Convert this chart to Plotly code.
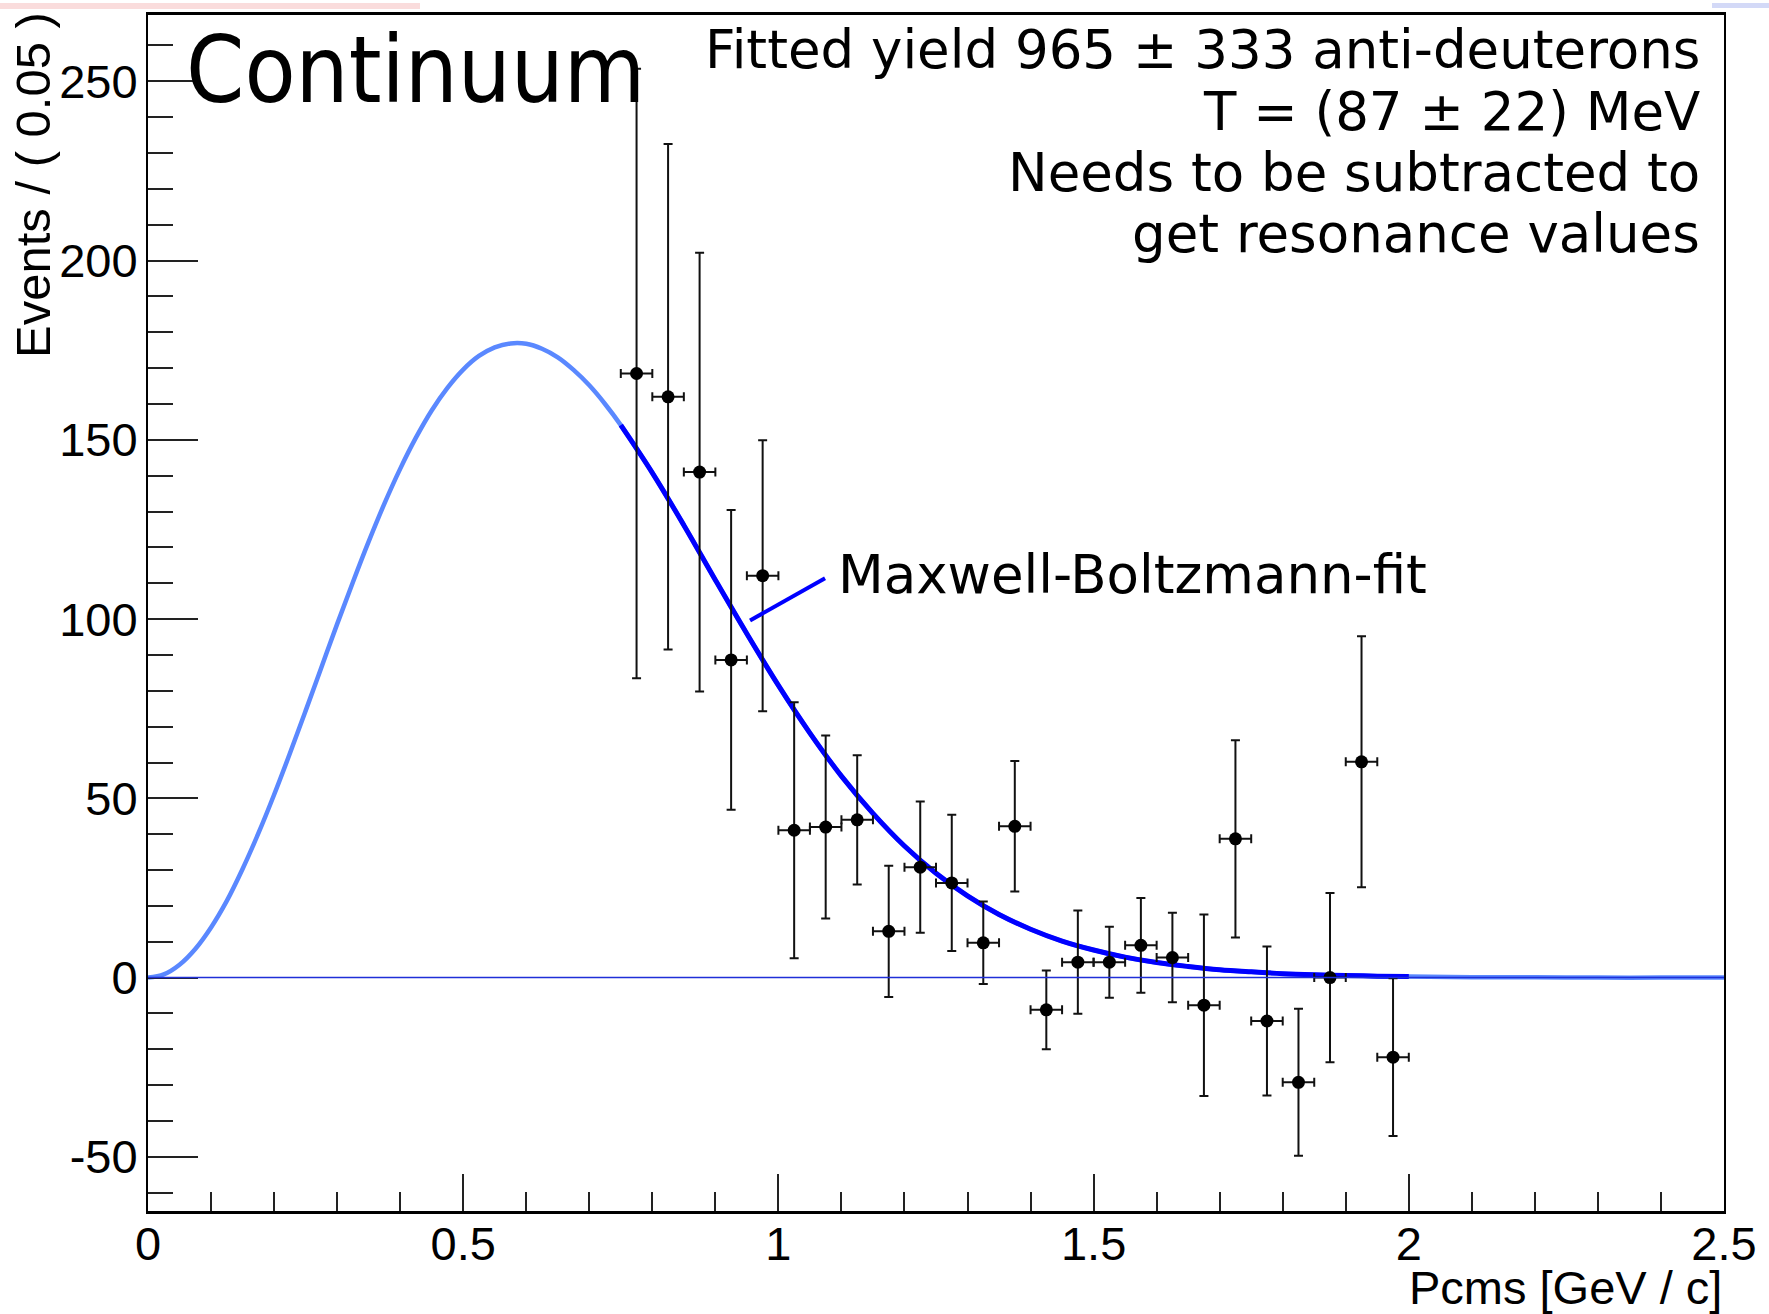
import plotly.graph_objects as go

# ---- data ----
bin_centers = [0.775, 0.825, 0.875, 0.925, 0.975, 1.025, 1.075, 1.125, 1.175, 1.225,
               1.275, 1.325, 1.375, 1.425, 1.475, 1.525, 1.575, 1.625, 1.675, 1.725,
               1.775, 1.825, 1.875, 1.925, 1.975]
events = [168.5, 162.0, 141.0, 88.6, 112.1, 41.1, 42.0, 44.0, 12.9, 30.8,
          26.4, 9.7, 42.2, -9.0, 4.3, 4.3, 9.0, 5.6, -7.7, 38.7,
          -12.1, -29.2, 0.0, 60.2, -22.2]
event_err = [85.0, 70.5, 61.2, 41.8, 37.8, 35.7, 25.5, 18.0, 18.3, 18.3,
             19.0, 11.5, 18.2, 11.0, 14.4, 9.9, 13.2, 12.5, 25.3, 27.5,
             20.8, 20.5, 23.6, 35.0, 22.0]
bin_half_width = 0.025

fit_x = [0.0, 0.025, 0.05, 0.075, 0.1, 0.125, 0.15, 0.175, 0.2, 0.225, 0.25, 0.275, 0.3,
         0.325, 0.35, 0.375, 0.4, 0.425, 0.45, 0.475, 0.5, 0.525, 0.55, 0.575, 0.6, 0.625,
         0.65, 0.675, 0.7, 0.725, 0.75, 0.8, 0.85, 0.9, 0.95, 1.0, 1.05, 1.1, 1.15, 1.2,
         1.25, 1.3, 1.35, 1.4, 1.45, 1.5, 1.55, 1.6, 1.65, 1.7, 1.75, 1.8, 1.85, 1.9,
         1.95, 2.0, 2.1, 2.2, 2.3, 2.4, 2.5]
fit_y = [0.0, 0.9, 3.6, 8.0, 14.0, 21.4, 30.3, 40.2, 51.0, 62.5, 74.4, 86.5, 98.6,
         110.3, 121.6, 132.2, 141.9, 150.6, 158.2, 164.5, 169.6, 173.4, 175.8, 176.9,
         176.8, 175.4, 173.0, 169.5, 165.2, 160.0, 154.1, 140.8, 126.2, 110.9, 95.9,
         81.5, 68.2, 56.2, 45.8, 36.7, 29.1, 22.8, 17.6, 13.5, 10.2, 7.7, 5.7, 4.2, 3.1,
         2.2, 1.6, 1.1, 0.8, 0.6, 0.4, 0.3, 0.1, 0.1, 0.0, 0.0, 0.0]
fit_range = [0.75, 2.0]

x_ticks = [0, 0.5, 1, 1.5, 2, 2.5]
x_tick_labels = ["0", "0.5", "1", "1.5", "2", "2.5"]
y_ticks = [-50, 0, 50, 100, 150, 200, 250]
y_tick_labels = ["-50", "0", "50", "100", "150", "200", "250"]

info_lines = ["Fitted yield 965 \u00b1 333 anti-deuterons",
              "T = (87 \u00b1 22) MeV",
              "Needs to be subtracted to",
              "get resonance values"]

# ---- geometry helpers (pixel -> paper) ----
W, H = 1769, 1314
ML, MR, MT, MB = 148, 45, 12, 103
PW, PH = W - ML - MR, H - MT - MB


def px(x):
    return (x - ML) / PW


def py(y):
    return 1 - (y - MT) / PH


fig = go.Figure()

# full-range curve (light)
fig.add_trace(go.Scatter(x=fit_x, y=fit_y, mode="lines",
                         line=dict(color="#5a88ff", width=4.5, shape="spline", smoothing=1.0),
                         hoverinfo="skip", showlegend=False))
# fit-range curve (dark)
sel = [i for i, v in enumerate(fit_x) if fit_range[0] <= v <= fit_range[1]]
fig.add_trace(go.Scatter(x=[fit_x[i] for i in sel], y=[fit_y[i] for i in sel], mode="lines",
                         line=dict(color="#0000ff", width=5, shape="spline", smoothing=1.0),
                         hoverinfo="skip", showlegend=False))

# data points
fig.add_trace(go.Scatter(
    x=bin_centers, y=events, mode="markers",
    marker=dict(color="black", size=13),
    error_y=dict(type="data", array=event_err, color="#111111", thickness=2, width=4.5),
    error_x=dict(type="data", array=[bin_half_width] * len(bin_centers), color="#111111",
                 thickness=2, width=4.5),
    showlegend=False))

shapes = [
    # zero line
    dict(type="line", xref="paper", yref="y", x0=0, x1=1, y0=0, y1=0,
         line=dict(color="#1f2fd8", width=1.5), layer="above"),
    # label pointer
    dict(type="line", xref="x", yref="y", x0=0.955, y0=99.6, x1=1.074, y1=111.4,
         line=dict(color="#0000ff", width=4)),
    # slide background remnants
    dict(type="rect", xref="paper", yref="paper", x0=px(0), x1=px(420), y0=py(0), y1=py(6),
         fillcolor="rgba(248,205,205,0.7)", line=dict(width=0), layer="below"),
    dict(type="rect", xref="paper", yref="paper", x0=px(1712), x1=px(1769), y0=py(0), y1=py(5),
         fillcolor="rgba(200,208,245,0.8)", line=dict(width=0), layer="below"),
]

annotations = [
    dict(text="Continuum", xref="paper", yref="paper", x=px(184), y=py(67),
         xanchor="left", yanchor="middle", showarrow=False,
         font=dict(family="DejaVu Sans Condensed", size=93, color="black")),
    dict(text="Maxwell-Boltzmann-fit", xref="paper", yref="paper", x=px(836), y=py(573),
         xanchor="left", yanchor="middle", showarrow=False,
         font=dict(family="DejaVu Sans", size=53, color="black")),
    dict(text="Events / ( 0.05 )", xref="paper", yref="paper", x=px(33), y=py(7),
         xanchor="center", yanchor="top", textangle=-90, showarrow=False,
         font=dict(family="Liberation Sans", size=49, color="black")),
    dict(text="Pcms [GeV / c]", xref="paper", yref="paper", x=1.0, y=py(1288),
         xanchor="right", yanchor="middle", showarrow=False,
         font=dict(family="Liberation Sans", size=47, color="black")),
]
line_centers = [46.5, 108.5, 169.5, 231.5]
for txt, yc in zip(info_lines, line_centers):
    annotations.append(dict(text=txt, xref="paper", yref="paper", x=px(1702), y=py(yc),
                            xanchor="right", yanchor="middle", showarrow=False,
                            font=dict(family="DejaVu Sans", size=53, color="black")))

fig.update_layout(
    width=W, height=H, autosize=False,
    margin=dict(l=ML, r=MR, t=MT, b=MB, pad=0),
    paper_bgcolor="white", plot_bgcolor="white",
    shapes=shapes, annotations=annotations,
    xaxis=dict(range=[0, 2.5], tickmode="array", tickvals=x_ticks, ticktext=x_tick_labels,
               ticks="inside", ticklen=37, tickwidth=1.5, tickcolor="#222222",
               minor=dict(dtick=0.1, tick0=0, ticks="inside", ticklen=19, tickwidth=1.5,
                          tickcolor="#222222", showgrid=False),
               showgrid=False, zeroline=False, showline=True, linecolor="black", linewidth=2.5,
               mirror=True, tickfont=dict(family="Liberation Sans", size=47, color="black"),
               ticklabelstandoff=-10),
    yaxis=dict(range=[-65.1, 268.5], tickmode="array", tickvals=y_ticks, ticktext=y_tick_labels,
               ticks="inside", ticklen=50, tickwidth=1.5, tickcolor="#222222",
               minor=dict(dtick=10, tick0=0, ticks="inside", ticklen=25, tickwidth=1.5,
                          tickcolor="#222222", showgrid=False),
               showgrid=False, zeroline=False, showline=True, linecolor="black", linewidth=2,
               mirror=True, tickfont=dict(family="Liberation Sans", size=47, color="black"),
               ticklabelstandoff=-1),
)

fig.write_html("out.html")
